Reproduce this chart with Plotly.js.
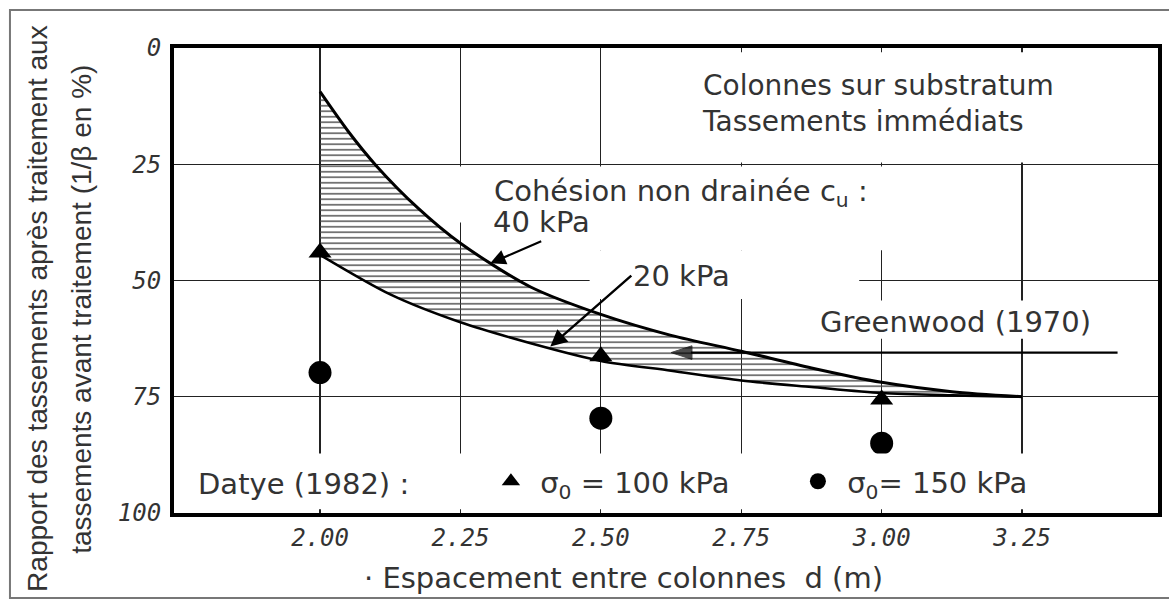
<!DOCTYPE html>
<html><head><meta charset="utf-8">
<script src="https://cdn.plot.ly/plotly-3.0.1.min.js"></script>
<style>html,body{margin:0;padding:0;background:#fff}#chart{width:1169px;height:599px}</style>
</head><body><div id="chart"></div>
<script>
// ---- data ----
const xTicks = [2.00, 2.25, 2.50, 2.75, 3.00, 3.25];
const xTickLabels = ['2.00', '2.25', '2.50', '2.75', '3.00', '3.25'];
const yTicks = [0, 25, 50, 75, 100];
const yTickLabels = ['0', '25', '50', '75', '100'];

// c_u = 40 kPa (upper boundary of hatched band)
const upperX = [2.00, 2.05, 2.10, 2.175, 2.25, 2.375, 2.50, 2.625, 2.75, 2.875, 3.00, 3.125, 3.25];
const upperY = [9.4, 17.9, 25.3, 34.5, 42.0, 51.4, 57.3, 61.8, 65.2, 68.8, 71.9, 73.9, 75.0];
// c_u = 20 kPa (lower boundary of hatched band)
const lowerX = [2.00, 2.125, 2.25, 2.375, 2.50, 2.625, 2.75, 2.875, 3.00, 3.125, 3.25];
const lowerY = [44.5, 53.0, 59.0, 63.5, 67.3, 69.4, 71.5, 72.9, 74.2, 74.7, 75.0];

// Datye (1982)
const sigma100X = [2.00, 2.50, 3.00];
const sigma100Y = [44.0, 66.3, 75.6];
const sigma150X = [2.00, 2.50, 3.00];
const sigma150Y = [69.8, 79.6, 85.0];

// Greenwood (1970): horizontal arrow, drawn from right to left
const greenwoodX = [3.42, 2.625];
const greenwoodY = [65.5, 65.5];

// ---- styles ----
const TXT = '#333';
const FONT = 'DejaVu Sans';
const bandX = upperX.concat(lowerX.slice().reverse());
const bandY = upperY.concat(lowerY.slice().reverse());

const traces = [
  {x: bandX, y: bandY, mode: 'lines', fill: 'toself', line: {width: 0, color: 'rgba(0,0,0,0)'},
   fillcolor: 'rgba(0,0,0,0)',
   fillpattern: {shape: '-', fgcolor: '#444', bgcolor: 'rgba(0,0,0,0)', size: 5.5, solidity: 0.25},
   showlegend: false, hoverinfo: 'skip'},
  {x: upperX, y: upperY, mode: 'lines', line: {color: '#000', width: 3, shape: 'spline', smoothing: 0.8}, showlegend: false, hoverinfo: 'skip'},
  {x: lowerX, y: lowerY, mode: 'lines', line: {color: '#000', width: 2.6, shape: 'spline', smoothing: 0.8}, showlegend: false, hoverinfo: 'skip'},
  {x: greenwoodX, y: greenwoodY, mode: 'lines+markers', line: {color: '#000', width: 2.2},
   marker: {symbol: ['line-ns', 'arrow'], size: [0, 22], color: '#000', angleref: 'previous',
            line: {width: 1, color: '#000'}},
   showlegend: false, hoverinfo: 'skip'},
  {x: sigma100X, y: sigma100Y, mode: 'markers', name: '&nbsp;σ<sub>0</sub> = 100 kPa',
   marker: {symbol: 'triangle-up', size: 20, color: '#000'}, hoverinfo: 'skip'},
  {x: sigma150X, y: sigma150Y, mode: 'markers', name: '&nbsp;σ<sub>0</sub>= 150 kPa',
   marker: {symbol: 'circle', size: 23, color: '#000'}, hoverinfo: 'skip'}
];

const tickFont = {family: 'DejaVu Sans Mono', style: 'italic', size: 24, color: TXT};
const axisCommon = {showgrid: true, gridcolor: '#222', gridwidth: 1.3, showline: true, linecolor: '#000',
  linewidth: 4, mirror: true, ticks: '', zeroline: false, tickfont: tickFont, fixedrange: true};

// white areas of the original drawing where the grid is interrupted
const mask = (x0, x1, y0, y1) => ({type: 'rect', xref: 'x', yref: 'y', x0: x0, x1: x1, y0: y0, y1: y1,
  fillcolor: '#fff', line: {width: 0}, layer: 'above'});

const layout = {
  width: 1169, height: 599,
  margin: {l: 174, r: 11, t: 48, b: 86},
  paper_bgcolor: '#fff', plot_bgcolor: '#fff',
  xaxis: Object.assign({range: [1.740, 3.492], tickmode: 'array', tickvals: xTicks, ticktext: xTickLabels, ticklabelstandoff: 0}, axisCommon),
  yaxis: Object.assign({range: [100, 0], tickmode: 'array', tickvals: yTicks, ticktext: yTickLabels, ticklabelstandoff: 4}, axisCommon),
  showlegend: true,
  legend: {orientation: 'h', x: 0.0224, xanchor: 'left', y: 0.068, yanchor: 'middle',
    bgcolor: 'rgba(0,0,0,0)', borderwidth: 0,
    font: {family: FONT, size: 29, color: TXT},
    title: {text: 'Datye (1982) :' + '&nbsp;'.repeat(8), side: 'left', font: {family: FONT, size: 29, color: TXT}},
    entrywidth: 262, entrywidthmode: 'pixels', itemsizing: 'trace'},
  shapes: [
    mask(2.515, 3.485, 0.9, 24.6),    // title block
    mask(2.43, 3.22, 25.5, 43.5),     // around "Cohésion ..."
    mask(2.48, 2.96, 43.5, 54.0),     // around "20 kPa"
    mask(2.86, 3.485, 54.3, 62.5),    // around "Greenwood (1970)"
    mask(2.23, 2.27, 25.5, 37.5),
    mask(1.747, 3.485, 87.2, 99.2),   // legend row at the bottom
    {type: 'rect', xref: 'paper', yref: 'paper', x0: -0.1667, x1: 1.2, y0: -0.183, y1: 1.0817,
     line: {color: '#777', width: 2}, fillcolor: 'rgba(0,0,0,0)'}
  ],
  annotations: [
    {xref: 'x', yref: 'y', x: 2.677, y: 12.0, xanchor: 'left', yanchor: 'middle', align: 'left',
     text: 'Colonnes sur substratum<br>Tassements immédiats', showarrow: false,
     font: {family: FONT, size: 28, color: TXT}},
    {xref: 'x', yref: 'y', x: 2.306, y: 31.2, xanchor: 'left', yanchor: 'middle', align: 'left',
     text: 'Cohésion non drainée c<sub>u</sub> :', showarrow: false,
     font: {family: FONT, size: 29, color: TXT}},
    // "40 kPa" with its arrow pointing at the 40 kPa curve
    {xref: 'x', yref: 'y', x: 2.303, y: 46.3, xanchor: 'center', yanchor: 'bottom',
     text: '40 kPa', showarrow: true, ax: 51, ay: -22,
     arrowhead: 2, arrowsize: 1.4, arrowwidth: 2.2, arrowcolor: '#000',
     font: {family: FONT, size: 29, color: TXT}},
    // "20 kPa" with its arrow pointing at the 20 kPa curve
    {xref: 'x', yref: 'y', x: 2.41, y: 64.2, xanchor: 'left', yanchor: 'middle',
     text: '20 kPa', showarrow: true, ax: 81, ay: -71,
     arrowhead: 2, arrowsize: 1.4, arrowwidth: 2.4, arrowcolor: '#000',
     font: {family: FONT, size: 29, color: TXT}},
    {xref: 'x', yref: 'y', x: 2.887, y: 59.0, xanchor: 'left', yanchor: 'middle',
     text: 'Greenwood (1970)', showarrow: false, font: {family: FONT, size: 29, color: TXT}},
    // axis titles
    {xref: 'paper', yref: 'paper', x: 0.457, y: -0.14, xanchor: 'center', yanchor: 'middle',
     text: '· Espacement entre colonnes&nbsp;&nbsp;d (m)', showarrow: false,
     font: {family: FONT, size: 29, color: TXT}},
    {xref: 'paper', yref: 'paper', x: -0.1382, y: 0.439, xanchor: 'center', yanchor: 'middle', textangle: -90,
     text: 'Rapport des tassements après traitement aux', showarrow: false,
     font: {family: 'Liberation Sans', size: 28, color: TXT}},
    {xref: 'paper', yref: 'paper', x: -0.0935, y: 0.439, xanchor: 'center', yanchor: 'middle', textangle: -90,
     text: 'tassements avant traitement (1/β en %)', showarrow: false,
     font: {family: 'Liberation Sans', size: 28, color: TXT}}
  ]
};

Plotly.newPlot('chart', traces, layout, {staticPlot: true, displayModeBar: false});
</script>
</body></html>
